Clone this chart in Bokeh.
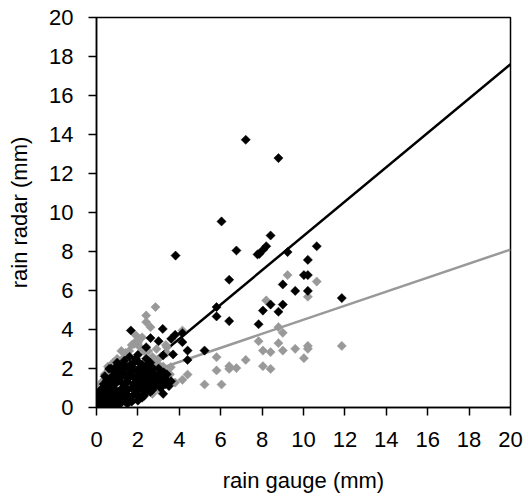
from bokeh.plotting import figure
from bokeh.models import Range1d, FixedTicker
from bokeh.embed import file_html
from bokeh.resources import INLINE

# ---- data ----
black_x = [7.21, 8.79, 6.04, 3.82, 8.41, 8.20, 8.05, 7.87, 7.78, 6.76, 9.23, 10.64, 10.21, 10.02, 10.21,
           6.41, 9.00, 9.60, 10.21, 11.85, 5.80, 8.41, 9.00, 8.04, 8.79, 5.80, 6.41, 7.83, 4.15, 3.61,
           3.80, 4.15, 4.40, 5.22, 4.40, 1.66, 3.20, 2.61, 3.00, 2.40, 3.22, 0.61, 0.93, 3.22, 3.70,
           0.05, 0.10, 0.15, 0.20, 0.25, 0.30, 0.35, 0.40, 0.45, 0.50, 0.55, 0.60, 0.65, 0.70, 0.75,
           0.80, 0.85, 0.90, 0.95, 1.00, 1.05, 1.10, 1.15, 1.20, 1.25, 1.30, 1.35, 1.40, 1.45, 1.50,
           1.55, 1.60, 1.65, 1.70, 1.75, 1.80, 1.85, 1.90, 1.95, 2.00, 2.05, 2.10, 2.15, 2.20, 2.25,
           2.30, 2.35, 2.40, 2.45, 2.50, 2.55, 2.60, 2.65, 2.70, 2.75, 2.80, 2.90, 3.00, 3.10, 3.20,
           3.30, 3.40, 3.50, 3.60, 0.30, 0.50, 0.60, 0.80, 0.90, 1.00, 1.10, 1.20, 1.30, 1.40, 1.50,
           1.60, 1.70, 1.80, 1.90, 2.00, 2.00, 2.10, 2.20, 2.30, 2.40, 2.50, 2.60, 2.70, 2.80, 2.90,
           3.00, 3.10, 3.20, 3.40, 0.20, 0.40, 0.70, 1.00, 1.20, 0.02, 0.08, 0.12, 0.18, 0.28,
           0.15, 0.35, 0.55, 0.75, 0.95, 1.15, 1.35, 1.55, 1.75, 1.95, 2.15, 2.35, 2.55, 2.75, 2.95,
           3.15, 0.25, 0.45, 0.65, 0.85, 1.05, 1.25, 1.45, 1.65, 1.85, 2.05, 2.25, 2.45, 2.65, 2.85,
           3.05, 3.25, 0.50, 0.70, 1.00, 1.20, 1.50, 1.70, 2.00, 2.20, 0.35, 0.60, 0.90, 1.10, 1.40,
           1.60, 1.90, 2.30, 2.60, 3.35]
black_y = [13.73, 12.79, 9.54, 7.79, 8.82, 8.27, 8.09, 7.88, 7.85, 8.05, 7.97, 8.27, 7.57, 6.79, 6.79,
           6.55, 6.31, 5.98, 5.98, 5.61, 5.15, 5.28, 5.28, 4.97, 4.91, 4.67, 4.43, 4.27, 3.81, 3.52,
           3.73, 3.35, 2.92, 2.92, 2.44, 3.95, 4.03, 3.56, 3.40, 3.09, 0.70, 1.98, 2.07, 2.67, 2.72,
           0.05, 0.30, 0.10, 0.50, 0.20, 0.80, 0.05, 0.40, 1.00, 0.15, 0.60, 1.30, 0.30, 0.90, 1.60,
           0.20, 0.55, 1.20, 1.90, 0.35, 0.80, 1.50, 2.10, 0.50, 1.00, 1.80, 2.40, 0.30, 0.70, 1.30,
           2.00, 2.60, 0.50, 1.00, 1.60, 2.30, 0.70, 1.30, 1.90, 2.70, 0.60, 1.10, 1.60, 2.20, 0.90,
           1.40, 1.90, 2.50, 1.00, 1.60, 2.10, 1.20, 1.80, 1.40, 2.00, 1.10, 1.60, 1.30, 1.80, 1.20,
           1.50, 1.30, 1.10, 1.35, 0.50, 1.40, 0.80, 1.60, 0.90, 1.70, 0.60, 1.30, 2.20, 1.60, 0.90,
           1.70, 2.10, 1.20, 2.50, 0.90, 1.50, 2.00, 1.30, 0.70, 1.70, 1.30, 2.30, 0.90, 1.70, 1.20,
           2.00, 1.00, 1.60, 1.70, 0.90, 1.60, 2.00, 2.30, 2.00, 0.15, 0.45, 0.25, 0.70, 0.35,
           0.70, 1.20, 1.00, 1.30, 1.50, 1.80, 1.20, 1.50, 1.90, 1.60, 2.00, 1.20, 1.30, 1.60, 1.50,
           1.40, 0.60, 0.80, 1.10, 1.90, 2.00, 0.70, 2.10, 2.20, 1.00, 2.30, 1.70, 2.20, 1.50, 1.30,
           1.60, 1.80, 0.30, 0.10, 0.10, 0.25, 0.20, 0.30, 0.35, 0.50, 0.20, 0.45, 0.60, 0.20, 0.50,
           0.40, 0.70, 0.60, 0.80, 1.20]

gray_x = [9.23, 10.64, 8.20, 10.21, 8.79, 9.00, 7.83, 8.79, 10.21, 10.21, 11.85, 8.04, 8.41, 9.00, 9.60,
          10.02, 7.21, 8.04, 8.41, 6.41, 6.41, 6.76, 5.80, 5.80, 5.22, 6.04, 4.40, 4.15, 3.80, 4.15,
          2.85, 2.40, 2.40, 2.61, 1.82, 1.98, 3.22, 3.59, 3.40,
          0.00, 0.10, 0.25, 0.40, 0.55, 0.80, 1.00, 1.26, 1.40, 1.58, 1.70, 1.82, 2.00, 2.10, 2.30,
          2.50, 2.70, 2.90, 3.10, 3.35, 3.40, 3.00, 3.30, 3.55, 3.43, 3.00, 2.70, 2.38, 2.10, 1.80,
          2.90, 2.20, 1.90, 1.20]
gray_y = [6.79, 6.46, 5.49, 5.68, 4.12, 3.83, 3.40, 3.30, 3.16, 3.01, 3.16, 2.92, 2.84, 2.92, 3.01,
          2.53, 2.44, 2.12, 1.98, 2.12, 1.98, 2.02, 2.58, 1.90, 1.18, 1.18, 1.69, 1.42, 1.28, 3.95,
          5.15, 4.72, 4.38, 4.12, 3.26, 3.30, 2.10, 2.07, 3.09,
          0.80, 1.10, 1.30, 1.70, 2.10, 2.30, 2.50, 2.50, 2.80, 2.90, 3.20, 3.30, 3.35, 3.10, 2.90,
          2.90, 2.60, 2.40, 2.60, 3.20, 2.80, 2.20, 1.90, 1.70, 1.30, 0.90, 0.70, 0.80, 0.50, 0.40,
          3.00, 3.60, 3.70, 2.90]

# regression lines (slope, intercept)
black_fit = (0.88, 0.0)
gray_fit = (0.36, 0.9)
fit_x = [0, 20]

x_ticks = [0, 2, 4, 6, 8, 10, 12, 14, 16, 18, 20]
y_ticks = [0, 2, 4, 6, 8, 10, 12, 14, 16, 18, 20]

FONT = "Liberation Sans"
BLACK = "#000000"
GRAY = "#999999"

p = figure(width=528, height=500, output_backend="svg", toolbar_location=None,
           x_range=Range1d(0, 20), y_range=Range1d(0, 20),
           min_border_left=96, min_border_right=18, min_border_top=17, min_border_bottom=93,
           x_axis_label="rain gauge (mm)", y_axis_label="rain radar (mm)")

p.grid.visible = False
p.outline_line_color = "black"
p.outline_line_width = 1.5
p.background_fill_color = "white"
p.border_fill_color = "white"

for ax, ticks in ((p.xaxis[0], x_ticks), (p.yaxis[0], y_ticks)):
    ax.ticker = FixedTicker(ticks=ticks)
    ax.axis_line_width = 1.5
    ax.axis_line_color = "black"
    ax.major_tick_line_width = 1.5
    ax.major_tick_line_color = "black"
    ax.major_tick_out = 8
    ax.major_tick_in = 0
    ax.minor_tick_line_color = None
    ax.major_label_text_font = FONT
    ax.major_label_text_font_size = "22px"
    ax.major_label_text_color = "black"
    ax.axis_label_text_font = FONT
    ax.axis_label_text_font_size = "22px"
    ax.axis_label_text_font_style = "normal"
    ax.axis_label_text_color = "black"

p.xaxis.major_label_standoff = 16
p.xaxis.axis_label_standoff = 18
p.yaxis.major_label_standoff = 15
p.yaxis.axis_label_standoff = 14

p.line(fit_x, [gray_fit[0] * v + gray_fit[1] for v in fit_x], line_color=GRAY, line_width=2.5)
p.line(fit_x, [black_fit[0] * v + black_fit[1] for v in fit_x], line_color=BLACK, line_width=2.5)

p.scatter(gray_x, gray_y, marker="square", angle=0.785398, size=6.5,
          fill_color=GRAY, line_color=GRAY, line_width=0.5)
p.scatter(black_x, black_y, marker="square", angle=0.785398, size=6.5,
          fill_color=BLACK, line_color=BLACK, line_width=0.5)

open("out.html", "w").write(file_html(p, INLINE))
